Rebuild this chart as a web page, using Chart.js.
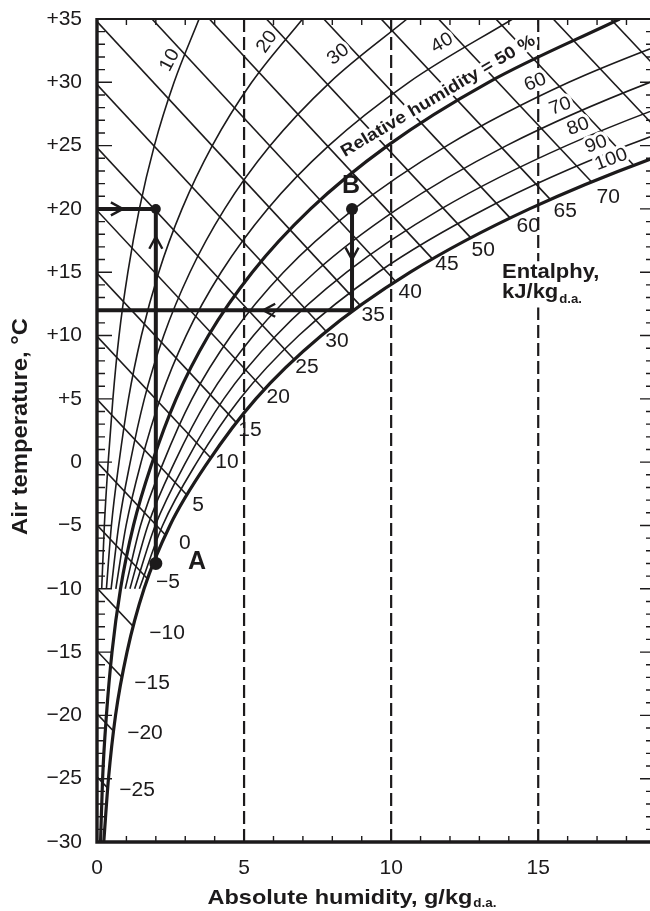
<!DOCTYPE html>
<html>
<head>
<meta charset="utf-8">
<script src="https://cdn.jsdelivr.net/npm/chart.js@4.4.1/dist/chart.umd.min.js"></script>
<style>
  body { margin: 0; background: #fff; }
  canvas { display: block; }
</style>
</head>
<body>
<canvas id="chart" width="650" height="911"></canvas>
<script>
// air temperature (°C) where the relative humidity curves are read
const temps = [-10, -5, 0, 5, 10, 15, 20, 25, 30, 35];
const tempsFull = [-30, -25, -20, -15, -10, -5, 0, 5, 10, 15, 20, 25, 30, 35];

// absolute humidity (g/kg) of each relative humidity curve at those temps
const rh10 = [0.16, 0.25, 0.38, 0.54, 0.75, 1.05, 1.44, 1.95, 2.62, 3.47];
const rh20 = [0.32, 0.49, 0.75, 1.07, 1.51, 2.10, 2.89, 3.92, 5.26, 6.99];
const rh30 = [0.48, 0.74, 1.13, 1.61, 2.27, 3.16, 4.34, 5.89, 7.92, 10.54];
const rh40 = [0.64, 0.99, 1.50, 2.15, 3.03, 4.22, 5.80, 7.88, 10.60, 14.13];
const rh60 = [0.96, 1.48, 2.26, 3.23, 4.56, 6.34, 8.74, 11.90, 16.04, 21.44];
const rh70 = [1.12, 1.73, 2.64, 3.77, 5.32, 7.41, 10.22, 13.92, 18.80, 25.16];
const rh80 = [1.28, 1.98, 3.02, 4.31, 6.09, 8.49, 11.70, 15.96, 21.58, 28.92];
const rh90 = [1.44, 2.23, 3.40, 4.86, 6.86, 9.56, 13.20, 18.02, 24.38, 32.73];
const rh50 = [0.12, 0.19, 0.32, 0.51, 0.80, 1.24, 1.88, 2.69, 3.79, 5.28, 7.26, 9.88, 13.31, 17.77];
const rh100 = [0.23, 0.39, 0.63, 1.02, 1.60, 2.48, 3.77, 5.40, 7.63, 10.65, 14.70, 20.08, 27.21, 36.58];
const rhLabels = ["10", "20", "30", "40", "60", "70", "80", "90", "100"];

// enthalpy lines, kJ/kg: start and end (humidity g/kg, temperature °C)
const enthalpy = [-25, -20, -15, -10, -5, 0, 5, 10, 15, 20, 25, 30, 35, 40, 45, 50, 55, 60, 65, 70, 75, 80];
const hStartX = [0, 0, 0, 0, 0, 0, 0, 0, 0, 0, 0, 0, 0, 1.87, 3.82, 5.76, 7.71, 9.66, 11.61, 13.56, 15.51, 17.46];
const hStartT = [-24.85, -19.88, -14.91, -9.94, -4.97, 0, 4.97, 9.94, 14.91, 19.88, 24.85, 29.82, 34.79, 35, 35, 35, 35, 35, 35, 35, 35, 35];
const hEndX = [0.86, 1.07, 1.35, 1.73, 2.22, 2.83, 3.55, 4.37, 5.24, 6.19, 7.21, 8.30, 9.45, 10.66, 11.91, 13.21, 14.55, 15.92, 17.32, 18.76, 19.5, 19.5];
const hEndT = [-26.95, -22.48, -18.22, -14.20, -10.45, -7.00, -3.82, -0.92, 1.88, 4.45, 6.84, 9.06, 11.12, 13.01, 14.79, 16.47, 18.03, 19.49, 20.88, 22.19, 25.17, 29.96];
const hLabels = ["\u221225", "\u221220", "\u221215", "\u221210", "\u22125", "0", "5", "10", "15", "20", "25", "30", "35", "40", "45", "50", "60", "65", "70"];

// dashed reference humidities
const dashedX = [5, 10, 15];

// process A -> B
const pathX = [[0, 2], [2, 2], [0, 8.67], [8.67, 8.67]];
const pathT = [[20, 20], [-8, 20], [12, 12], [20, 12]];
const dotX = [2, 2, 8.67];
const dotT = [20, -8, 20];
const arrowX = [0.88, 2, 5.65, 8.67];
const arrowT = [20, 17.8, 12, 16.0];
const arrowDir = ["right", "up", "left", "down"];

// axes
const xTicks = [0, 5, 10, 15];
const yTicks = [-30, -25, -20, -15, -10, -5, 0, 5, 10, 15, 20, 25, 30, 35];
const yTickLabels = ["\u221230", "\u221225", "\u221220", "\u221215", "\u221210", "\u22125", "0", "+5", "+10", "+15", "+20", "+25", "+30", "+35"];

const ink = "#1c1a1b";
const FONT = '"Liberation Sans", Arial, sans-serif';

const pts = (xs, ts) => xs.map((x, i) => ({ x: x, y: ts[i] }));

const curve = (xs, ts, width, extra) => Object.assign({
  data: pts(xs, ts),
  borderColor: ink,
  borderWidth: width,
  pointRadius: 0,
  cubicInterpolationMode: "monotone",
  fill: false,
  order: 5,
}, extra || {});

const datasets = [];

enthalpy.forEach((h, i) => {
  datasets.push({
    data: pts([hStartX[i], hEndX[i]], [hStartT[i], hEndT[i]]),
    borderColor: ink, borderWidth: 1.6, pointRadius: 0, tension: 0, fill: false, order: 6,
  });
});

[rh10, rh20, rh30, rh40, rh60, rh70, rh80, rh90].forEach((r) => {
  datasets.push(curve(r, temps, 1.6));
});

// saturation curve; white fill hides the enthalpy lines past it
datasets.push(curve(rh100, tempsFull, 3.2, { fill: "start", backgroundColor: "#ffffff", order: 4 }));
datasets.push(curve(rh50, tempsFull, 3.2, { order: 3 }));

dashedX.forEach((x) => {
  datasets.push({
    data: pts([x, x], [-30, 35]),
    borderColor: ink, borderWidth: 2.2, borderDash: [13, 5], pointRadius: 0, tension: 0, fill: false, order: 2,
  });
});

pathX.forEach((xs, i) => {
  datasets.push({
    data: pts(xs, pathT[i]),
    borderColor: ink, borderWidth: 4, pointRadius: 0, tension: 0, fill: false, order: 1,
    borderCapStyle: "butt",
  });
});

datasets.push({
  data: pts(dotX, dotT),
  showLine: false,
  pointRadius: [5, 6.5, 6],
  pointBackgroundColor: ink,
  pointBorderWidth: 0,
  order: 0,
});

function at(chart, x, t) {
  return [chart.scales.x.getPixelForValue(x), chart.scales.y.getPixelForValue(t)];
}

// sx stretches the text along its baseline, halo knocks out lines behind it
function text(ctx, s, x, y, font, angle, align, sx, halo) {
  ctx.save();
  ctx.translate(x, y);
  if (angle) ctx.rotate(angle * Math.PI / 180);
  if (sx) ctx.scale(sx, 1);
  ctx.font = font;
  ctx.textAlign = align || "center";
  ctx.textBaseline = "middle";
  if (halo) {
    ctx.strokeStyle = "#fff";
    ctx.lineWidth = halo;
    ctx.lineJoin = "round";
    ctx.strokeText(s, 0, 0);
  }
  ctx.fillStyle = ink;
  ctx.fillText(s, 0, 0);
  ctx.restore();
}

// label anchors in data coordinates (humidity, temperature)
const hLabelAt = [[1.36, -25.9], [1.63, -21.4], [1.87, -17.5], [2.38, -13.5], [2.41, -9.5], [2.99, -6.4], [3.44, -3.4],
  [4.42, 0.0], [5.20, 2.5], [6.16, 5.1], [7.14, 7.5], [8.16, 9.5], [9.39, 11.6], [10.65, 13.4], [11.90, 15.6],
  [13.13, 16.7], [14.66, 18.6], [15.92, 19.8], [17.38, 20.9]];
const rhLabelAt = [[2.48, 31.75, -62], [5.78, 33.2, -55], [8.20, 32.2, -38], [11.73, 33.1, -30],
  [14.9, 30.0, -22], [15.75, 28.1, -20], [16.36, 26.5, -20], [16.97, 25.1, -20], [17.48, 23.9, -20]];

const decor = {
  id: "decor",
  beforeDraw(chart) {
    const ctx = chart.ctx;
    ctx.save();
    ctx.fillStyle = "#fff";
    ctx.fillRect(0, 0, chart.width, chart.height);
    ctx.restore();
  },
  afterDatasetsDraw(chart) {
    const ctx = chart.ctx;
    const a = chart.chartArea;
    const xs = chart.scales.x, ys = chart.scales.y;

    // relative humidity labels, knocked out of the grid
    rhLabels.forEach((s, i) => {
      const [px, py] = at(chart, rhLabelAt[i][0], rhLabelAt[i][1]);
      text(ctx, s, px, py, "19px " + FONT, rhLabelAt[i][2], "center", 1.05, 6);
    });
    let p = at(chart, 11.6, 28.9);
    text(ctx, "Relative humidity = 50 %", p[0], p[1], "bold 17px " + FONT, -30.7, "center", 1.12, 6);

    ctx.save();
    ctx.strokeStyle = ink;
    ctx.lineCap = "butt";

    // tick marks, all pointing inwards
    ctx.lineWidth = 1.4;
    ctx.beginPath();
    for (let v = 1; v <= 18; v++) {
      const px = xs.getPixelForValue(v);
      ctx.moveTo(px, a.bottom);
      ctx.lineTo(px, a.bottom - (v % 5 === 0 ? 12 : 6));
      ctx.moveTo(px, a.top);
      ctx.lineTo(px, a.top + 6);
    }
    for (let t = -29; t <= 34; t++) {
      const py = ys.getPixelForValue(t);
      const major = t % 5 === 0;
      ctx.moveTo(a.left, py);
      ctx.lineTo(a.left + (major ? 15 : 8), py);
      ctx.moveTo(a.right, py);
      ctx.lineTo(a.right - (major ? 10 : 4), py);
    }
    ctx.stroke();

    // frame
    ctx.lineWidth = 3.4;
    ctx.beginPath();
    ctx.moveTo(a.left, a.top - 1);
    ctx.lineTo(a.left, a.bottom);
    ctx.lineTo(a.right, a.bottom);
    ctx.stroke();
    ctx.lineWidth = 2;
    ctx.beginPath();
    ctx.moveTo(a.left, a.top);
    ctx.lineTo(a.right, a.top);
    ctx.stroke();

    // arrow heads on the process lines
    ctx.lineWidth = 2.4;
    const rot = { right: 0, down: 90, left: 180, up: -90 };
    arrowX.forEach((x, i) => {
      const [px, py] = at(chart, x, arrowT[i]);
      ctx.save();
      ctx.translate(px, py);
      ctx.rotate(rot[arrowDir[i]] * Math.PI / 180);
      ctx.beginPath();
      ctx.moveTo(-12, -6.5);
      ctx.lineTo(0, 0);
      ctx.lineTo(-12, 6.5);
      ctx.stroke();
      ctx.restore();
    });
    ctx.restore();

    // enthalpy labels
    hLabels.forEach((s, i) => {
      const [px, py] = at(chart, hLabelAt[i][0], hLabelAt[i][1]);
      text(ctx, s, px, py, "20px " + FONT, 0, "center", 1.05);
    });

    // enthalpy caption on a white patch
    p = at(chart, 13.77, 15.0);
    const q = at(chart, 13.77, 13.4);
    ctx.font = "bold 20px " + FONT;
    const wCap = ctx.measureText("Entalphy,").width * 1.1;
    ctx.save();
    ctx.fillStyle = "#fff";
    ctx.fillRect(p[0] - 2, p[1] - 11, wCap + 4, q[1] - p[1] + 26);
    ctx.restore();
    text(ctx, "Entalphy,", p[0], p[1], "bold 20px " + FONT, 0, "left", 1.1);
    text(ctx, "kJ/kg", q[0], q[1], "bold 20px " + FONT, 0, "left", 1.1);
    ctx.font = "bold 20px " + FONT;
    const w = ctx.measureText("kJ/kg").width * 1.1;
    text(ctx, "d.a.", q[0] + w + 1, q[1] + 7, "bold 12px " + FONT, 0, "left", 1.1);

    // points A and B
    p = at(chart, 3.4, -7.9);
    text(ctx, "A", p[0], p[1], "bold 25px " + FONT);
    p = at(chart, 8.64, 21.8);
    text(ctx, "B", p[0], p[1], "bold 25px " + FONT);
  },
  afterDraw(chart) {
    const ctx = chart.ctx;
    const a = chart.chartArea;
    // axis titles with subscript
    const sx = 1.12;
    ctx.save();
    ctx.font = "bold 21px " + FONT;
    const main = "Absolute humidity, g/kg";
    const w1 = ctx.measureText(main).width * sx;
    ctx.font = "bold 12px " + FONT;
    const w2 = ctx.measureText("d.a.").width * sx;
    ctx.restore();
    const x0 = 352 - (w1 + w2 + 1) / 2;
    text(ctx, main, x0, 898, "bold 21px " + FONT, 0, "left", sx);
    text(ctx, "d.a.", x0 + w1 + 1, 904, "bold 12px " + FONT, 0, "left", sx);
    text(ctx, "Air temperature, \u00b0C", 21, (a.top + a.bottom) / 2 - 4, "bold 22px " + FONT, -90, "center", 1.08);
  },
};

new Chart(document.getElementById("chart"), {
  type: "line",
  data: { datasets: datasets },
  plugins: [decor],
  options: {
    responsive: false,
    animation: false,
    layout: { autoPadding: false, padding: { top: 19, right: 0, left: 0, bottom: 0 } },
    plugins: { legend: { display: false }, tooltip: { enabled: false } },
    scales: {
      x: {
        type: "linear",
        min: 0,
        max: 18.8,
        afterBuildTicks: (s) => { s.ticks = xTicks.map((v) => ({ value: v })); },
        afterFit: (s) => { s.height = 69; },
        grid: { display: false, drawTicks: false },
        border: { display: false },
        ticks: { color: ink, font: { size: 21, family: FONT }, padding: 14, maxRotation: 0 },
      },
      y: {
        type: "linear",
        min: -30,
        max: 35,
        afterBuildTicks: (s) => { s.ticks = yTicks.map((v) => ({ value: v })); },
        afterFit: (s) => { s.width = 97; },
        grid: { display: false, drawTicks: false },
        border: { display: false },
        ticks: {
          color: ink,
          // small line height keeps the top label from pushing the plot down
          font: { size: 21, family: FONT, lineHeight: 0.3 },
          padding: 15,
          callback: (v) => yTickLabels[yTicks.indexOf(v)],
        },
      },
    },
  },
});
</script>
</body>
</html>
